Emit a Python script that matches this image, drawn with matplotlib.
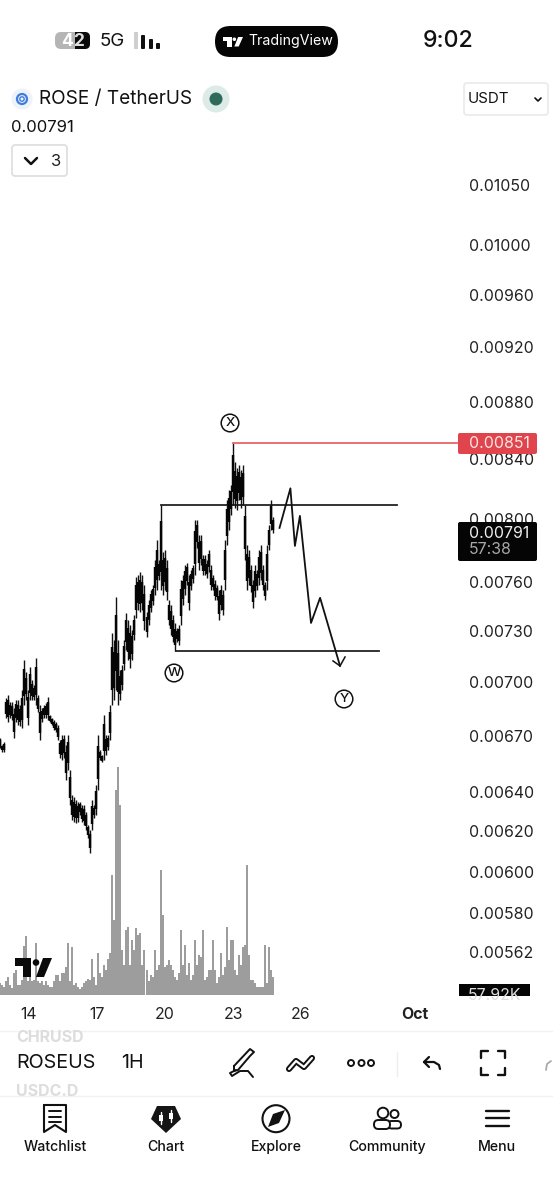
import numpy as np
import matplotlib
matplotlib.use('Agg')
import matplotlib.pyplot as plt
from matplotlib.patches import Circle, FancyBboxPatch, Polygon, Rectangle

plt.rcParams['font.family'] = ['Inter', 'DejaVu Sans']

# prices are in units of 0.00001 USDT
highs = [669.1, 665.3, 666.9, 691.2, 692.9, 689, 689, 685.6, 690.1, 690.1, 687.3, 695.7, 713, 706, 695.7, 708.9, 701.4,
         698.5, 714.2, 692.9, 687.3, 685.6, 687.3, 688.4, 691.8, 681.7, 680, 678.9, 677.8, 676.2, 668, 670.7, 670.7,
         665.3, 670.7, 651.9, 638.7, 637.7, 636.1, 635.1, 635.1, 633.5, 633.5, 629.9, 623.3, 620.8, 636.1, 633.5, 644,
         670.7, 662.6, 659.9, 681.7, 670.7, 670.7, 687.3, 728.9, 724.7, 750.5, 724.7, 707.2, 710.1, 724.7, 740.8, 736.6,
         733.6, 730.6, 739.6, 762.9, 764, 766, 764, 757.9, 741.4, 748.7, 754.9, 757.9, 773.5, 786.2, 773.5, 809, 778.6,
         779.9, 773.5, 748.7, 745.7, 739.6, 734.8, 731.8, 733.6, 761, 764, 770.4, 771.6, 764, 767.2, 770.4, 799.2, 799.2,
         789.5, 789.5, 776.7, 776.7, 773.5, 779.9, 770.4, 764, 761, 757.9, 754.9, 757.9, 754.9, 786.2, 812.2, 818.9,
         822.2, 851, 837.8, 833.8, 835.8, 832.4, 835.8, 809, 783, 779.9, 770.4, 761, 770.4, 767.2, 779.9, 783, 770.4,
         759.8, 783, 796, 812.2, 801.2]
lows = [663.7, 661.5, 661.5, 680, 677.8, 680, 678.9, 669.1, 677.8, 676.2, 675.6, 674.5, 687.3, 690.1, 676.2, 690.1, 690.1,
        690.1, 687.3, 683.4, 668, 677.8, 680, 680, 678.9, 677.8, 676.2, 673.5, 672.4, 668, 658.3, 657.2, 658.3,
        646.6, 651.9, 633.5, 625.8, 624.8, 624.3, 624.8, 628.4, 624.8, 623.3, 620.8, 616.7, 609.2, 620.8, 626.8, 628.4,
        641.3, 657.2, 656.1, 657.2, 659.9, 662.6, 668, 687.3, 690.1, 695.7, 687.3, 690.1, 695.7, 707.2, 718.8, 713,
        708.4, 713, 724.7, 737.8, 742.6, 741.4, 742.6, 730.6, 726.5, 733.6, 741.4, 745.7, 751.8, 754.9, 761, 754.9, 751.8,
        754.9, 748.7, 733.6, 727.5, 723.5, 718.2, 723.5, 721.8, 733.6, 745.7, 751.8, 757.9, 742.6, 754.9, 759.2, 764, 781.1,
        767.2, 770.4, 764, 764, 762.2, 766, 754.9, 754.9, 748.7, 748.7, 736.6, 742.6, 739.6, 754.9, 783, 792.7,
        802.5, 809, 807, 805.7, 812.2, 807, 809, 773.5, 754.9, 757.9, 753.6, 743.9, 750.5, 754.9, 757.9, 761, 754.9,
        748.7, 754.9, 779.9, 792.7, 790.7]

# volume in thousands
volumes = [120, 100, 80, 140, 180, 100, 70, 220, 250, 100, 100, 150, 490, 590, 140, 180, 140, 150, 520, 140, 120, 140, 100,
           140, 100, 80, 80, 140, 200, 200, 140, 220, 220, 280, 520, 140, 480, 100, 120, 80, 60, 80, 120, 140, 160, 150,
           360, 180, 100, 420, 220, 180, 300, 250, 360, 420, 1200, 750, 2050, 2280, 1900, 450, 300, 650, 680, 300, 550,
           450, 670, 600, 620, 300, 450, 250, 140, 200, 180, 450, 250, 300, 1250, 800, 280, 300, 350, 300, 250, 180, 150,
           220, 650, 300, 500, 200, 320, 150, 200, 550, 300, 400, 380, 650, 150, 180, 250, 250, 550, 250, 120, 180, 420,
           200, 280, 680, 350, 550, 550, 250, 200, 400, 300, 480, 500, 1300, 400, 150, 150, 120, 80, 80, 80, 80, 500, 120,
           480, 250, 180]

price_ticks = [1050, 1000, 960, 920, 880, 840, 800, 760, 730, 700, 670, 640, 620, 600, 580, 562]
price_labels = ['0.01050', '0.01000', '0.00960', '0.00920', '0.00880', '0.00840', '0.00800', '0.00760',
                '0.00730', '0.00700', '0.00670', '0.00640', '0.00620', '0.00600', '0.00580', '0.00562']
day_ticks = [14, 17, 20, 23, 26, 31]
day_labels = ['14', '17', '20', '23', '26', 'Oct']

# hand drawn wave and levels
wave_days = [25.05, 25.53, 25.73, 25.95, 26.44, 26.84, 27.72]
wave_prices = [794, 820, 782.4, 801.8, 734.8, 750, 709.5]
head_days = [27.41, 27.72, 27.94]
head_prices = [712.4, 709.5, 714.7]
level_high = 809
level_low = 718.2
level_red = 851

W, H = 553, 1200
fig = plt.figure(figsize=(W / 100, H / 100), dpi=100, facecolor='white')

# price pane
ax = fig.add_axes([0, (H - 995) / H, 462 / W, 835 / H])
ax.set_yscale('log')
ax.set_xlim(12.72, 33.10)
ax.set_ylim(542.6, 1071.6)
days = np.linspace(12.72, 24.76, len(highs))
highs = np.array(highs)
lows = np.array(lows)
ax.vlines(days, lows, highs, color='#111111', lw=1.0, zorder=3)
ax.vlines(days, lows + 0.2 * (highs - lows), highs - 0.2 * (highs - lows), color='#050505', lw=1.75, zorder=3)

ax.plot([19.82, 30.23], [level_high, level_high], color='#222222', lw=1.3)
ax.plot([20.48, 29.44], [level_low, level_low], color='#222222', lw=1.3)
ax.plot([23.0, 32.9], [level_red, level_red], color='#e8636a', lw=1.3, zorder=4)
ax.plot(wave_days, wave_prices, color='#111111', lw=1.3)
ax.plot(head_days, head_prices, color='#111111', lw=1.1)

ax.set_yticks(price_ticks)
ax.set_yticklabels(price_labels)
ax.minorticks_off()
ax.yaxis.tick_right()
ax.set_xticks(day_ticks)
ax.set_xticklabels(day_labels)
ax.get_xticklabels()[-1].set_fontweight('bold')
ax.tick_params(axis='both', length=0, labelsize=11.4, labelcolor='#222222')
ax.tick_params(axis='y', pad=5)
ax.tick_params(axis='x', pad=8.5)
for s in ax.spines.values():
    s.set_visible(False)
ax.patch.set_alpha(0)

# volume pane
vax = fig.add_axes([0, (H - 995) / H, 462 / W, 235 / H])
vax.set_xlim(12.72, 33.10)
vax.set_ylim(0, 2350)
vax.vlines(np.linspace(12.72, 24.76, len(volumes)), 0, volumes, color='#858585', lw=1.15)
vax.axis('off')

# overlay in pixels for the app interface
ui = fig.add_axes([0, 0, 1, 1])
ui.set_xlim(0, W)
ui.set_ylim(H, 0)
ui.axis('off')
ui.patch.set_alpha(0)


def box(x, y, w, h, fc, ec='none', r=3, lw=1.0, **kw):
    p = FancyBboxPatch((x, y), w, h, boxstyle=f'round,pad=0,rounding_size={r}', fc=fc, ec=ec, lw=lw, **kw)
    ui.add_patch(p)
    return p


def label(x, y, s, size=11, color='#111111', ha='left', **kw):
    return ui.text(x, y, s, fontsize=size, color=color, ha=ha, va='center', **kw)


def line(xs, ys, color='#111111', lw=1.6):
    ui.plot(xs, ys, color=color, lw=lw, solid_capstyle='round', solid_joinstyle='round')


def tv_logo(x, y, w, h, color):
    sx, sy = w / 37.0, h / 20.0
    ui.add_patch(Polygon([(x, y), (x + 16 * sx, y), (x + 16 * sx, y + 19 * sy), (x + 8 * sx, y + 19 * sy),
                          (x + 8 * sx, y + 8 * sy), (x, y + 8 * sy)], fc=color, ec='none'))
    ui.add_patch(Circle((x + 21 * sx, y + 4.5 * sy), 3.3 * sx, fc=color, ec='none'))
    ui.add_patch(Polygon([(x + 28 * sx, y), (x + 37 * sx, y), (x + 29 * sx, y + 19 * sy), (x + 21 * sx, y + 19 * sy)],
                         fc=color, ec='none'))


# status bar
box(55, 32, 35, 17, '#b5b5b5', r=6)
ui.add_patch(Rectangle((75, 32), 9, 17, fc='#0a0a0a', ec='none'))
box(78, 32, 12, 17, '#0a0a0a', r=5)
label(67, 41, '4', 12.5, 'white', ha='center', fontweight='bold')
label(79, 41, '2', 12.5, '#dddddd', ha='center', fontweight='bold')
label(100, 42, '5G', 13.5)
ui.add_patch(Rectangle((134, 32), 4, 17, fc='#cfcfcf', ec='none'))
for bx, by in [(141, 35), (149, 39), (156, 43)]:
    box(bx, by, 4, 49 - by, '#111111', r=1)

box(215, 26, 123, 31, '#050505', r=15.5)
tv_logo(223, 37, 20, 10, 'white')
label(248, 41.5, 'TradingView', 10.2, 'white')
label(448, 41, '9:02', 16.6, '#111111', ha='center', fontweight='medium')

# symbol header
ui.add_patch(Circle((22, 99), 10.5, fc='#eef2fa', ec='none'))
ui.add_patch(Circle((22, 99), 5, fc='none', ec='#3f7fdc', lw=1.6))
ui.add_patch(Circle((22, 99), 2.2, fc='none', ec='#3f7fdc', lw=1.0))
label(39, 99, 'ROSE / TetherUS', 13.7)
ui.add_patch(Circle((216, 99), 13.5, fc='#dcebe7', ec='none'))
ui.add_patch(Circle((216, 99), 6.5, fc='#2e6a5a', ec='none'))
label(11, 128, '0.00791', 12)
box(12, 145, 55, 31, 'white', ec='#dddddd', r=3, lw=1.2)
line([25, 31, 37], [158, 164, 158], lw=1.8)
label(56, 161, '3', 12, '#222222', ha='center')
box(464, 83, 84, 32, 'white', ec='#e6e6e6', r=3, lw=1.0)
label(468, 99, 'USDT', 10.8)
line([535, 538, 541], [98, 101, 98], lw=1.2)

# wave labels
for cx, cy, s in [(230, 423, 'X'), (174, 673, 'W'), (344, 699, 'Y')]:
    ui.add_patch(Circle((cx, cy), 8.8, fc='white', ec='#111111', lw=1.1))
    label(cx, cy, s, 9.5, ha='center', fontweight='medium')

# price tags
box(458, 433, 79, 21, '#e0454d', r=2)
label(469, 443.5, '0.00851', 11.4, '#fbe4e4')
box(458, 522, 79, 39, '#050505', r=2)
label(469, 533, '0.00791', 11.4, '#eeeeee')
label(469, 550, '57:38', 11.4, '#a8a8a8')
ui.add_patch(Rectangle((459, 984), 71, 12, fc='#050505', ec='none'))
tag = label(494, 996, '57.92K', 11.4, '#dddddd', ha='center')
tag.set_clip_path(Rectangle((459, 984), 71, 12, transform=ui.transData))
tv_logo(15, 958, 37, 20, '#0a0a0a')

# toolbar
line([0, W], [1031, 1031], '#f2f2f2', 1.0)
line([0, W], [1096, 1096], '#f2f2f2', 1.0)
label(16, 1037, 'CHRUSD', 11.5, '#dddddd', fontweight='bold')
label(16, 1091, 'USDC.D', 11.5, '#dddddd', fontweight='bold')
label(16, 1063.5, 'ROSEUS', 14.2)
label(121, 1063.5, '1H', 14.2)
line([234, 250, 254, 250, 238, 234, 234], [1066, 1049, 1052, 1056, 1070, 1071, 1066], lw=1.4)
line([236, 230, 232, 240, 248, 253], [1070, 1073, 1076, 1071, 1071, 1077], lw=1.4)
line([289, 296, 304, 312], [1069, 1061, 1067, 1058], lw=4.4)
line([289, 296, 304, 312], [1069, 1061, 1067, 1058], 'white', 1.6)
for cx in [351, 361.5, 371]:
    ui.add_patch(Circle((cx, 1063), 3, fc='white', ec='#111111', lw=1.4))
line([397, 397], [1052, 1076], '#eeeeee', 1.0)
line([429, 424, 429], [1057, 1062, 1067], lw=1.6)
line([424, 434, 439, 440], [1062, 1062, 1065, 1069], lw=1.6)
# fullscreen corners
for sx, sy in [(1, 1), (-1, 1), (1, -1), (-1, -1)]:
    cx, cy = 492.5 + sx * 12, 1063 + sy * 12
    line([cx, cx, cx - sx * 7], [cy - sy * 7, cy, cy], lw=1.7)
line([546, 547, 551], [1070, 1064, 1061], '#aaaaaa', 1.3)

# bottom navigation
nav_x = [55, 166, 276, 387, 497]
nav_names = ['Watchlist', 'Chart', 'Explore', 'Community', 'Menu']
for nx, name in zip(nav_x, nav_names):
    label(nx, 1147, name, 10.2, ha='center', fontweight='medium')

line([44, 66, 66, 55, 44, 44], [1105, 1105, 1132, 1125, 1132, 1105], lw=1.5)
for ly in [1111, 1116.5, 1122]:
    line([49, 61], [ly, ly], lw=1.4)
ui.add_patch(Polygon([(157, 1106), (175, 1106), (181, 1119), (166, 1133), (151, 1119)], fc='#151515', ec='none'))
line([161, 161], [1112, 1124], 'white', 1.0)
line([171, 171], [1110, 1122], 'white', 1.0)
ui.add_patch(Rectangle((159, 1115), 4, 6, fc='white', ec='none'))
ui.add_patch(Rectangle((169, 1113), 4, 6, fc='white', ec='none'))
ui.add_patch(Circle((276, 1118.7), 13.5, fc='none', ec='#111111', lw=1.5))
ui.add_patch(Polygon([(285, 1110), (279, 1123), (268, 1127), (273, 1114)], fc='#111111', ec='none'))
ui.add_patch(Circle((383, 1113), 5.3, fc='white', ec='#111111', lw=1.4))
ui.add_patch(Circle((394.5, 1114), 4, fc='white', ec='#111111', lw=1.4))
box(388, 1121, 13, 7.5, 'white', ec='#111111', r=3.7, lw=1.4)
box(374, 1120, 16, 9, 'white', ec='#111111', r=4.4, lw=1.4)
for ly in [1110.7, 1118, 1125.7]:
    line([486, 509], [ly, ly], lw=1.7)

fig.savefig('out.png', dpi=100, facecolor='white')
